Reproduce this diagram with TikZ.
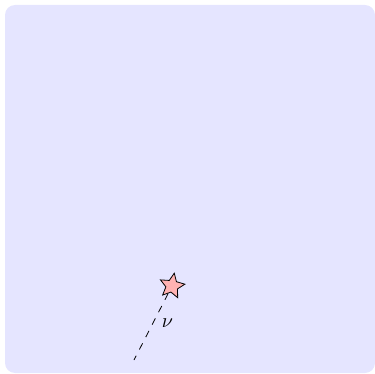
\documentclass[tikz,border=0pt]{standalone}
\definecolor{bgblue}{RGB}{229,229,255}
\usetikzlibrary{positioning, shapes.geometric}

\begin{document}
\begin{tikzpicture}[x=0.5pt, y=-0.5pt,
  vertex/.style={star, star points=5, star point ratio=2.1, draw, fill=red!30,
    inner sep=0pt, minimum size=13pt, rotate=-10},
  particle/.style={dash pattern=on 3.5pt off 3.5pt},
]
  \useasboundingbox (0,0) rectangle (375,374);
  \fill[bgblue, rounded corners=5pt] (5,5) rectangle (375,373);
  \node[vertex] (v) at (172,286) {};
  \coordinate (e) at (134,360);
  \draw[particle] (v) -- node[right=1pt, pos=0.45] (lbl) {$\nu$} (e);
\end{tikzpicture}
\end{document}
